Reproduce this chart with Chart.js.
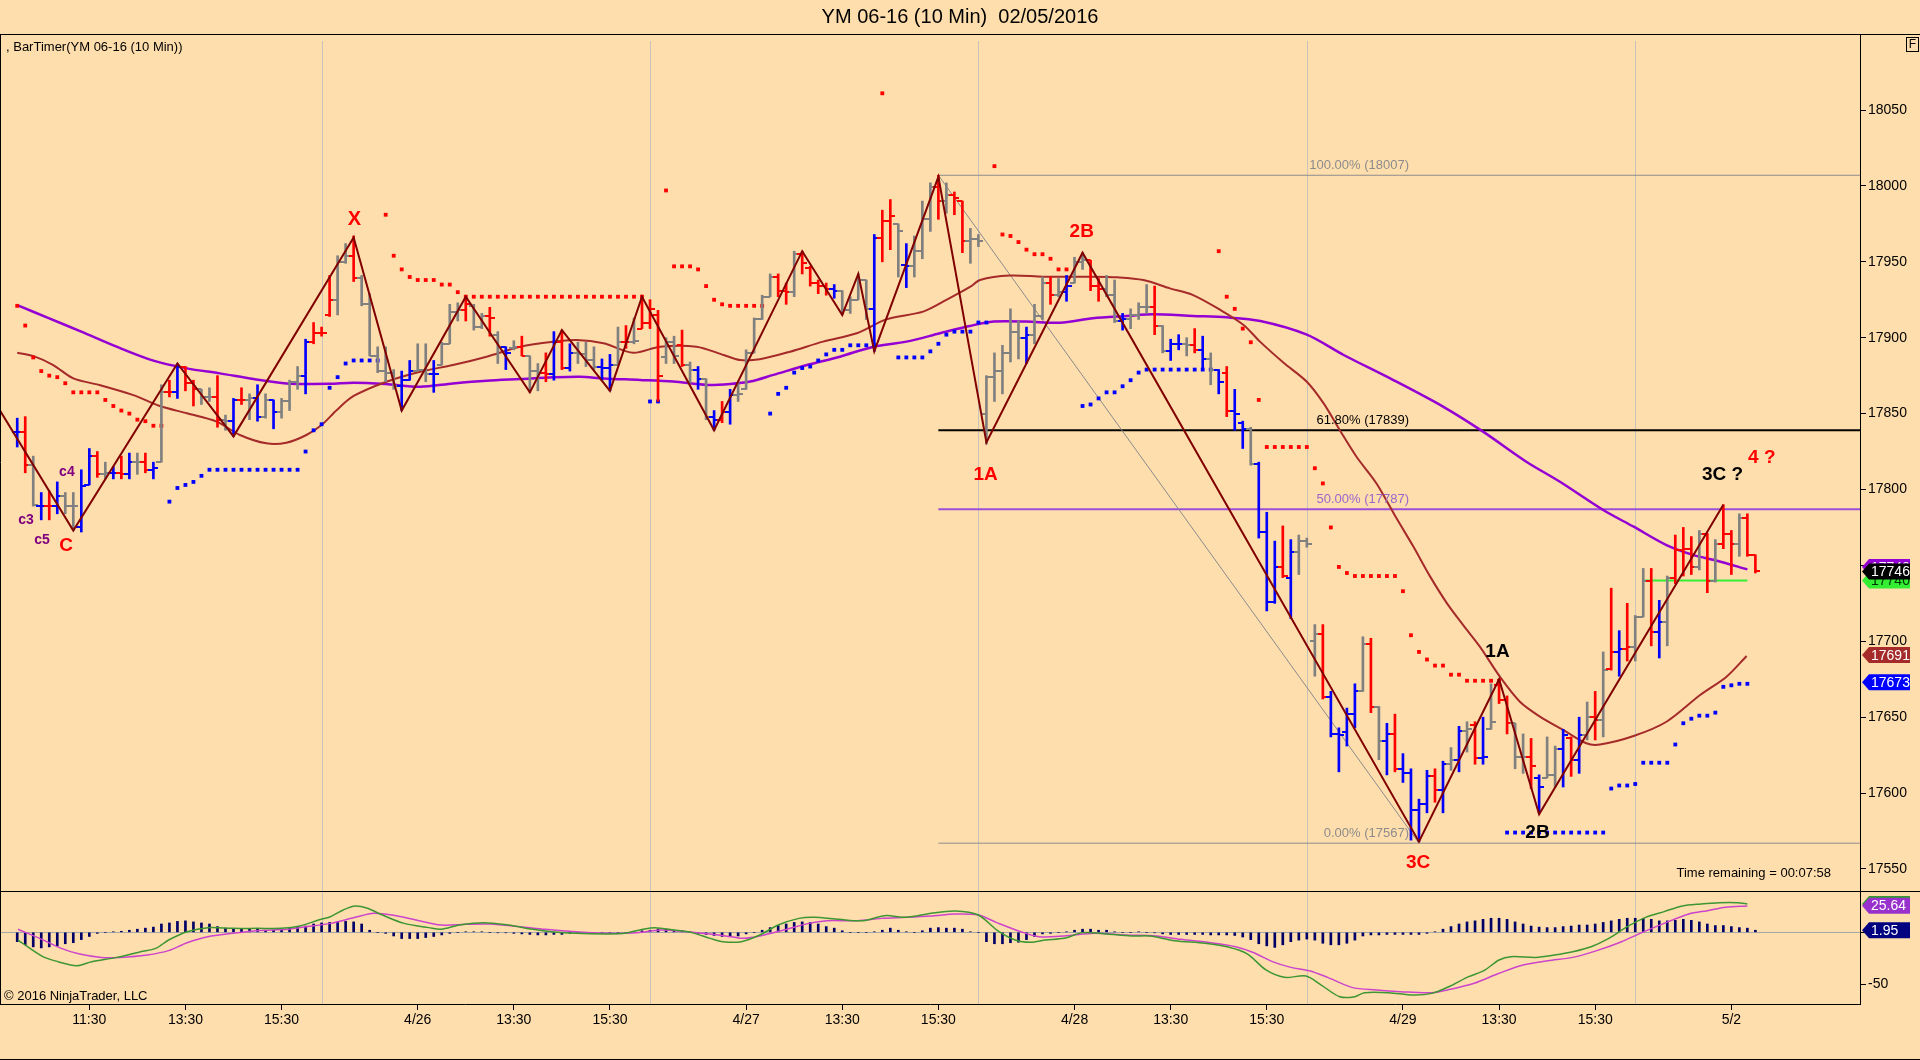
<!DOCTYPE html>
<html><head><meta charset="utf-8">
<script src="https://cdn.jsdelivr.net/npm/chart.js@4.4.1/dist/chart.umd.min.js"></script>
<style>
html,body{margin:0;padding:0;background:#FFDEAD;width:1920px;height:1060px;overflow:hidden;}
#wrapA{position:absolute;left:0;top:0;width:1920px;height:892px;}
#wrapB{position:absolute;left:0;top:891px;width:1920px;height:169px;}
canvas{display:block;}
</style></head><body>
<div id="wrapA"><canvas id="cA" width="1920" height="892"></canvas></div>
<div id="wrapB"><canvas id="cB" width="1920" height="169"></canvas></div>
<script>
// ---------------- DATA ----------------
const FIRST_BAR = 2; // bar index of first visible bar
// OHLC per 10-min bar (day blocks: 4/25, 4/26, 4/27, 4/28, 4/29, 5/2)
const opens = [
17838,17838,17816,17789,17789,17789,17796,17789,17775,17803,17822,17810,17811,17811,17810,17818,17818,17813,17818,17864,17864,17881,17870,17866,17861,17861,17846,17845,17859,17859,17860,17848,17859,17851,17858,17871,17875,17897,17903,
17915,17925,17950,17954,17939,17922,17888,17878,17877,17868,17872,17878,17879,17876,17882,17896,17917,17918,17921,17907,17914,17902,17894,17893,17894,17888,17878,17877,17876,17897,17880,17890,17889,17885,17881,17880,17882,17897,17897,17906,17910,
17915,17887,17897,17895,17882,17879,17873,17848,17846,17851,17862,17866,17890,17912,17927,17940,17931,17930,17955,17946,17936,17934,17932,17931,17918,17925,17938,17919,17966,17977,17975,17948,17947,17957,17978,17999,17990,17994,17990,17964,17965,
17850,17874,17878,17890,17904,17900,17902,17914,17936,17928,17930,17936,17950,17951,17934,17932,17928,17911,17912,17915,17920,17920,17908,17891,17896,17896,17895,17892,17886,17879,17877,17852,17844,17840,17817,17772,17726,17749,17742,17759,17766,
17700,17705,17663,17639,17640,17652,17667,17698,17657,17634,17639,17616,17613,17589,17593,17611,17602,17619,17622,17641,17645,17623,17642,17671,17661,17646,17624,17624,17610,17610,17612,17629,17636,17622,17638,17650,17648,17682,17693,17695,17696,
17716,17740,17706,17713,17742,17760,17761,17749,17771,17740,17764,17771,17764,17781,17757];
const highs = [
17847,17848,17822,17798,17799,17805,17798,17798,17813,17827,17825,17818,17815,17822,17824,17824,17824,17818,17869,17872,17883,17881,17872,17866,17867,17875,17849,17860,17867,17863,17869,17863,17859,17860,17872,17881,17899,17910,17907,
17941,17954,17962,17967,17941,17929,17894,17894,17879,17878,17885,17896,17896,17885,17897,17922,17923,17928,17922,17916,17920,17904,17894,17898,17901,17888,17883,17890,17904,17905,17896,17897,17897,17894,17886,17889,17907,17908,17913,17928,17925,
17918,17900,17901,17905,17884,17881,17873,17852,17858,17866,17871,17892,17913,17928,17942,17942,17936,17957,17957,17947,17938,17936,17935,17931,17927,17942,17938,17968,17984,17991,17975,17962,17967,17990,18002,18007,18002,17996,17990,17972,17968,
17875,17890,17895,17919,17911,17907,17922,17940,17940,17939,17941,17953,17956,17951,17939,17941,17938,17916,17919,17923,17935,17934,17908,17899,17902,17900,17906,17901,17890,17879,17881,17866,17845,17841,17818,17785,17766,17776,17767,17770,17768,
17711,17711,17667,17643,17656,17672,17703,17702,17657,17646,17652,17626,17616,17596,17615,17616,17621,17630,17644,17647,17647,17650,17672,17675,17664,17646,17639,17636,17612,17637,17631,17642,17637,17650,17660,17667,17693,17735,17707,17725,17717,
17748,17748,17727,17743,17770,17775,17769,17773,17771,17767,17790,17773,17784,17784,17757];
const lows = [
17828,17811,17789,17780,17780,17784,17784,17773,17772,17803,17808,17807,17807,17807,17807,17810,17811,17807,17818,17861,17860,17865,17855,17856,17858,17841,17839,17835,17856,17846,17845,17847,17840,17847,17852,17866,17863,17896,17901,
17914,17915,17949,17937,17921,17888,17877,17871,17866,17852,17872,17878,17871,17864,17882,17896,17911,17911,17905,17906,17901,17883,17879,17892,17888,17864,17865,17871,17872,17879,17878,17883,17881,17879,17872,17865,17882,17893,17896,17906,17906,
17858,17883,17883,17881,17870,17866,17846,17839,17844,17843,17858,17866,17890,17912,17927,17927,17922,17927,17942,17934,17929,17928,17926,17915,17916,17925,17912,17891,17950,17958,17940,17933,17940,17952,17970,17978,17982,17981,17956,17949,17960,
17830,17858,17863,17884,17886,17883,17896,17912,17922,17927,17924,17936,17945,17931,17924,17927,17910,17905,17906,17912,17916,17902,17890,17885,17892,17888,17890,17880,17869,17863,17848,17839,17827,17816,17768,17720,17725,17742,17715,17744,17762,
17677,17662,17637,17614,17631,17643,17667,17653,17622,17612,17614,17607,17569,17568,17587,17594,17587,17615,17614,17627,17619,17619,17642,17659,17639,17616,17613,17603,17587,17610,17604,17604,17611,17613,17635,17635,17637,17681,17677,17687,17687,
17716,17697,17689,17697,17738,17743,17744,17747,17732,17739,17761,17744,17756,17756,17745];
const closes = [
17838,17816,17790,17789,17789,17796,17789,17789,17802,17822,17810,17811,17811,17810,17818,17818,17813,17814,17864,17864,17881,17870,17866,17861,17861,17846,17845,17859,17859,17860,17848,17859,17851,17858,17871,17875,17897,17903,17903,
17925,17950,17954,17939,17922,17888,17878,17877,17868,17872,17878,17879,17876,17876,17896,17917,17918,17922,17907,17914,17913,17894,17890,17894,17888,17878,17877,17876,17897,17880,17890,17889,17885,17881,17880,17882,17897,17897,17898,17910,17919,
17875,17897,17888,17882,17879,17873,17848,17846,17851,17862,17863,17890,17912,17927,17940,17931,17930,17955,17949,17936,17934,17932,17931,17918,17925,17938,17919,17966,17977,17980,17970,17947,17957,17978,17999,17990,17994,17992,17964,17965,17964,
17874,17878,17890,17904,17900,17902,17914,17936,17928,17930,17934,17950,17951,17934,17932,17928,17911,17912,17915,17920,17920,17908,17891,17896,17896,17895,17892,17886,17879,17871,17852,17850,17840,17817,17772,17726,17749,17743,17759,17766,17764,
17705,17663,17639,17638,17652,17667,17698,17657,17634,17639,17616,17613,17589,17593,17611,17602,17619,17622,17641,17642,17623,17624,17647,17661,17646,17624,17624,17618,17604,17612,17629,17638,17622,17638,17650,17648,17681,17693,17695,17696,17716,
17740,17706,17713,17742,17760,17761,17749,17771,17740,17764,17771,17764,17781,17757,17746];
// paint-bar colour code per bar: r = red, b = blue, g = gray
const barColors = (
"brgbrbggbbrgbrbgrbgrbrrggrgbrgbgbgggbrr" +
"rggrgggggbbggbgggrggrgbgrggrbrbgggbbgrgrr" +
"rggrgbgbrbgggggrrgrrrrbggggbrrgbgggrgrrgg" +
"gggggbggrgbggrrggbgggrgbbgrbgbrbbgbbbrbgg" +
"grbbbbgrgbrbbbbrbgbgrbgrrggrbggbrbgrgrbrg" +
"grbgrrrgrgrrgrr").split('');

// trailing stop dots [bar, price]
const redStops = [[2,17921],[3,17908],[4,17887],[5,17878],[6,17875],[7,17874],[8,17870],[9,17864],[10,17864],[11,17864],[12,17864],[13,17859],[14,17855],[15,17852],[16,17850],[17,17846],[18,17845],[19,17842],[20,17842],
[48,17981],[49,17954],[50,17945],[51,17940],[52,17938],[53,17938],[54,17938],[55,17935],[56,17935],[57,17930],[58,17927],[59,17927],[60,17927],[61,17927],[62,17927],[63,17927],[64,17927],[65,17927],[66,17927],[67,17927],[68,17927],[69,17927],[70,17927],[71,17927],[72,17927],[73,17927],[74,17927],[75,17927],[76,17927],[77,17927],[78,17927],[79,17927],[80,17927],
[83,17997],[84,17947],[85,17947],[86,17947],[87,17945],[88,17934],[89,17925],[90,17922],[91,17921],[92,17921],[93,17921],[94,17921],[95,17921],
[110,18061],
[124,18013],[125,17968],[126,17967],[127,17963],[128,17958],[129,17955],[130,17955],[131,17952],[132,17945],[133,17945],
[152,17957],[153,17927],[154,17919],[155,17906],[156,17897],[157,17859],[158,17828],[159,17828],[160,17828],[161,17828],[162,17828],[163,17828],[164,17814],[165,17804],[166,17775],[167,17749],[168,17745],[169,17743],[170,17743],[171,17743],[172,17743],[173,17743],[174,17743],[175,17733],[176,17704],[177,17693],[178,17688],[179,17684],[180,17684],[181,17678],[182,17678],[183,17674],[184,17674],[185,17674],[186,17674],[187,17674]];
const blueStops = [[21,17792],[22,17801],[23,17803],[24,17805],[25,17809],[26,17813],[27,17813],[28,17813],[29,17813],[30,17813],[31,17813],[32,17813],[33,17813],[34,17813],[35,17813],[36,17813],[37,17813],[38,17825],[39,17839],[40,17843],[41,17867],[42,17874],[43,17883],[44,17885],[45,17885],[46,17885],[47,17885],
[81,17858],[82,17858],
[96,17850],[97,17863],[98,17867],[99,17877],[100,17880],[101,17881],[102,17885],[103,17889],[104,17892],[105,17892],[106,17895],[107,17895],[108,17895],[109,17895],
[112,17887],[113,17887],[114,17887],[115,17887],[116,17891],[117,17896],[118,17902],[119,17904],[120,17904],[121,17904],[122,17910],[123,17910],
[135,17855],[136,17856],[137,17860],[138,17864],[139,17864],[140,17868],[141,17872],[142,17877],[143,17879],[144,17879],[145,17879],[146,17879],[147,17879],[148,17879],[149,17879],[150,17879],[151,17879],
[188,17574],[189,17574],[190,17574],[191,17574],[192,17574],[193,17574],[194,17574],[195,17574],[196,17574],[197,17574],[198,17574],[199,17574],[200,17574],[201,17603],[202,17605],[203,17605],[204,17606],[205,17620],[206,17620],[207,17620],[208,17620],[209,17632],[210,17646],[211,17649],[212,17651],[213,17651],[214,17653],[215,17670],[216,17671],[217,17672],[218,17672]];

// moving averages [bar, price]
const slowMA = [[2,17921.5],[6,17912.7],[10,17904],[14.4,17894.1],[19,17884.9],[23.2,17879.8],[27.3,17876.5],[31.5,17872.8],[35.6,17869.9],[41,17869.6],[44,17870.4],[48,17869.5],[52.3,17867.7],[56.4,17869.9],[60.6,17871.7],[64.8,17872.8],[68.9,17873.9],[72.3,17874.3],[75.2,17873.2],[79.75,17872.2],[83.9,17871.1],[88.1,17868.9],[91,17869.5],[93.5,17871.1],[96.4,17875.5],[100.6,17882],[104.7,17887.5],[108.9,17894.1],[113,17897.4],[117.2,17902.9],[120.9,17907.7],[123.9,17910.6],[128,17910.6],[132.2,17909.9],[136.3,17912.8],[140.5,17914.3],[143.8,17915.4],[148.8,17914.3],[153,17913.4],[157.2,17911],[163,17902],[167.6,17888.6],[173.8,17872.1],[180,17854.6],[185,17838.1],[190.4,17818.3],[194.6,17805.1],[200,17786.5],[203.8,17775.5],[207.9,17763.4],[211.3,17756.8],[214.2,17753.1],[218,17747.4]];
const fastMA = [[2,17890.1],[4.2,17887.5],[6.5,17882],[9,17873.2],[12.3,17868.8],[16.5,17862.2],[19.8,17855],[23.2,17850.2],[26.9,17844.7],[29.8,17835.9],[33.1,17830.4],[35.6,17830.8],[38.1,17835.9],[40,17842.5],[41.9,17852.4],[44,17861.6],[48.1,17871],[52.3,17877.6],[56.4,17882],[60.6,17887.5],[64.8,17894.1],[68.9,17897.4],[71.8,17898.5],[75.2,17896.3],[78.9,17890.1],[82.25,17894.1],[86.8,17894.1],[90.2,17888.6],[92.2,17885.3],[94.7,17885.8],[98.5,17890.8],[102.6,17897.4],[106.8,17902.9],[110.5,17912.1],[115.1,17917.2],[118,17924.9],[121,17933.6],[122.2,17938],[125.9,17940.9],[130.1,17940.2],[136.3,17940.2],[139.3,17939.8],[142.6,17938],[145.9,17932.5],[148.8,17928.1],[152.2,17918.3],[155.1,17908.4],[157.15,17897.4],[160.1,17883.5],[163,17871],[165.1,17856.7],[167.1,17839.2],[169.2,17821.6],[171.7,17804],[174.2,17781],[176.3,17762.4],[178.4,17742.6],[180.5,17725],[182.5,17710.8],[184.6,17696.5],[187.1,17676.7],[189.6,17660.2],[192.1,17650.4],[195,17641.6],[197.9,17632.8],[199.6,17632],[203.8,17637.6],[207.9,17647],[212.1,17664.6],[215.4,17676.7],[217.9,17690.3]];

// zigzag swing pivots [bar, price]
const zigzag = [[-0.15,17852],[9,17773],[22,17883],[29,17835],[44,17966],[50,17852],[58,17927],[66,17864],[70,17905],[76,17865],[80,17927],[89,17839],[100,17957],[105,17915],[107,17942],[109,17891],[117,18006],[123,17831],[135,17956],[177,17568],[187,17675],[192,17586],[215,17790]];

// Fibonacci retracement
const fibAnchor = [[117,18007],[177,17567]];
const fibLevels = [18007, 17839, 17787, 17567];
const fibTexts = ["100.00% (18007)", "61.80% (17839)", "50.00% (17787)", "0.00% (17567)"];
const fibLabelBar = 175.75;
const greenLevel = [[205,17740],[218,17740]];

// wave labels [text, bar, price, colour, size]
const waveLabels = [
 ["X",44.1,17978,"#FF0000",20],["C",8.1,17763,"#FF0000",19],
 ["c3",3.1,17779.5,"#800080",14],["c5",5.1,17766.7,"#800080",14],["c4",8.2,17811.7,"#800080",14],
 ["1A",122.9,17810,"#FF0000",19],["2B",134.9,17970,"#FF0000",19],["3C",176.9,17554,"#FF0000",19],
 ["1A",186.8,17693,"#000000",19],["2B",191.8,17574,"#000000",19],
 ["3C ?",214.9,17809.5,"#000000",19],["4 ?",219.8,17821,"#FF0000",19]];

// MACD panel
const macdLine = [[2.1,-7.4],[5.2,-23.4],[7.1,-28.2],[9.4,-32.1],[11.3,-28.2],[14.4,-24.1],[17.4,-18.6],[19.3,-15.4],[20.9,-7.4],[23.2,0.6],[25.8,4.5],[28.9,3.8],[32,3.8],[35,3.8],[37.3,6.1],[39.6,11.8],[41.1,15],[42.7,21.5],[44.2,25.3],[45.7,23.1],[47.6,16.6],[50.3,8.6],[53.4,4.5],[54.9,2.9],[57.2,7],[60.2,9.3],[63.3,7],[66.4,2.9],[68.7,0.6],[71.7,-1],[75.5,-1.6],[77.8,-1],[80.1,2.9],[81.6,4.5],[84,2.2],[86.2,-0.3],[88.5,-5.8],[90.1,-9],[92.4,-9],[94.7,-2.6],[97,7],[99.6,13.4],[101.5,14.4],[104.6,12.5],[107.6,11.2],[110.3,16],[113,14.4],[116.1,18.3],[119.1,20.5],[122,16.6],[124.3,2.2],[126.6,-7.4],[128.5,-9.6],[130.4,-7.4],[132.7,-5.8],[135,-0.3],[138,-1.6],[141.1,-3.5],[143.4,-3.5],[146.5,-8],[150.3,-10.6],[153.3,-14.4],[155.6,-20.9],[157.9,-36.2],[160.2,-43.3],[162.9,-42],[164.8,-50.7],[167.1,-61.9],[169,-61.9],[170.2,-58],[173.2,-58],[176.3,-60.3],[178.6,-58.7],[180.9,-51.6],[183.2,-42.6],[185.1,-36.9],[187,-26.6],[188.5,-23.4],[191.6,-24.1],[193.9,-21.8],[196.2,-18.6],[198.5,-13.8],[200.7,-5.8],[203,5.4],[205.3,14.4],[207.6,19.9],[209.9,25.3],[212.2,27.2],[214.5,28.5],[216.8,28.5],[218,27.2]];
const macdSignal = [[2.1,2.9],[4.8,-5.8],[7.5,-15.4],[9.8,-20.9],[12.5,-24.1],[14.8,-24.1],[18.2,-21.8],[20.9,-17.6],[23.2,-10],[25.8,-4.2],[28.9,-1],[32,1.6],[35.8,2.9],[38.1,5.4],[41.1,8.6],[44.2,14.4],[46.5,18.3],[48.8,16.6],[51.8,11.8],[54.9,7],[58,7.7],[61,8],[64.8,5.4],[67.9,2.9],[71.7,0.6],[76.3,-1],[79.4,-0.3],[82.4,2.2],[85.5,0.6],[88.5,-1.6],[91.6,-4.8],[92.7,-5.8],[94.7,-3.5],[97.7,2.2],[100.8,8.6],[103.1,11.2],[106.9,11.2],[109.9,13.4],[113,14.4],[116.1,15.7],[119.1,17.6],[122,16.6],[124.3,9.3],[127.3,0.6],[129.6,-4.2],[132.7,-3.5],[136.5,-1],[140.3,-2.6],[144.2,-3.5],[147.2,-6.7],[151,-10],[154.1,-13.8],[156.4,-19.6],[158.7,-28.2],[161,-33.7],[163.3,-36.9],[165.6,-43.3],[168.6,-52.9],[171.7,-55.5],[174.7,-57.1],[178.6,-58],[180.9,-54.8],[183.9,-49],[187,-39.4],[190,-31.4],[193.1,-27.3],[196.2,-24.1],[199.2,-17.6],[202.3,-9],[204.6,-1],[207.6,8.6],[210.7,17.6],[213,20.8],[215.3,24],[218,25.3]];
const macdHist = [
-9,-12,-14,-15,-14,-13,-11,-10,-7,-4,-1,0,0.5,1,2,3,4,5,8,9,10.5,11,10,9,8,5.5,4,3,3,3,3,2,2,3,4,5,6,8,9,
9.5,10,10.5,10,8,2,0,-1,-3.5,-6,-6,-6,-5,-4,-2.5,-1,0,0.5,0.5,0.5,0,-0.5,-0.5,-1,-1.5,-2,-2.5,-2.5,-2,-2,-1,-0.5,0,-0.5,-1,-1,-0.5,0,0.5,1.5,2,
3,3,2,1.5,0.5,-1,-2,-3,-4,-4,-3.5,-1.5,0,2,4.5,6.5,8,9.5,10,9.5,8,5.5,4,1.5,0,0,0,0.5,2,4,2,0.5,0,1.5,4,4.5,4,4,3,0.5,0,
-9,-11,-11,-10,-9.5,-7,-4,-1.5,-1,0,0.5,2,3,3,2,2,0.5,0,0,0.5,0,-0.5,-1.5,-2,-2,-2,-2,-2,-2.5,-2.5,-2.5,-3,-4.5,-7,-11,-13,-14.5,-12,-9,-7.5,-6.5,
-7.5,-10.5,-12,-12,-10.5,-7.5,-3.5,-2.5,-2.5,-2,-2,-2,-2,-2,-1,0.5,3,5.5,8,10,11,12.5,13.5,13.5,12.5,10,8,6,5,4.5,4.5,5.5,6,7,7,8,9.5,11,12.5,13.5,13.5,
13.5,12.5,11,11,11.5,12.5,11.5,10,8,6.5,6.5,5.5,4.5,4,2];

// axes
const priceTicks = [17550,17600,17650,17700,17750,17800,17850,17900,17950,18000,18050];
const timeTickBars = [11,23,35,52,64,76,93,105,117,134,146,158,175,187,199,216];
const timeTickLabels = ["11:30","13:30","15:30","4/26","13:30","15:30","4/27","13:30","15:30","4/28","13:30","15:30","4/29","13:30","15:30","5/2"];
const dayBreaks = [40,81,122,163,204];
const priceBadges = [[17749,"#9400D3","#FFFFFF"],[17740,"#33EE33","#003300"],[17746,"#000000","#FFFFFF"],[17691,"#A52A2A","#FFFFFF"],[17673,"#0000FF","#FFFFFF"]];
const macdBadges = [[27.3,"#339933","#FFFFFF"],[25.64,"#9932CC","#FFFFFF"],[1.95,"#000080","#FFFFFF"]];

// view ranges
const X_MIN = -0.15, X_MAX = 232.06;
const P_MIN = 17535.5, P_MAX = 18100.07;
const M_MIN = -68.9, M_MAX = 38.75;

// ---------------- STYLE ----------------
const NARROW = '"Liberation Sans Narrow", "Arial Narrow", "Liberation Sans", Arial, sans-serif';
const SANS = '"Liberation Sans", Arial, sans-serif';
const COL = {r:'#FF0000', b:'#0000FF', g:'#808080'};

function tickImg(color, side){
  const c = document.createElement('canvas'); c.width = 10; c.height = 2;
  const g = c.getContext('2d'); g.fillStyle = color;
  if (side === 'L') g.fillRect(0,0,5,2); else g.fillRect(5,0,5,2);
  return c;
}
const leftImgs = {}, rightImgs = {};
for (const k in COL){ leftImgs[k] = tickImg(COL[k],'L'); rightImgs[k] = tickImg(COL[k],'R'); }

const barIdx = opens.map((_,k)=>FIRST_BAR+k);
const pts = arr => arr.map(([x,y])=>({x,y}));

function drawBadge(ctx, x0, y, text, bg, fg){
  ctx.save();
  ctx.beginPath();
  ctx.moveTo(x0+2, y); ctx.lineTo(x0+9, y-8); ctx.lineTo(x0+50, y-8);
  ctx.lineTo(x0+50, y+8); ctx.lineTo(x0+9, y+8); ctx.closePath();
  ctx.fillStyle = bg; ctx.fill();
  ctx.fillStyle = fg; ctx.font = '14px ' + NARROW; ctx.textAlign='left'; ctx.textBaseline='middle';
  ctx.fillText(text, x0+11, y+1);
  ctx.restore();
}

const common = {
  responsive:false, animation:false, events:[], devicePixelRatio:1,
  plugins:{legend:{display:false}, tooltip:{enabled:false}, title:{display:false}}
};

// ---------------- MAIN PRICE CHART ----------------
const fibColors = ['#8C8C8C','#000000','#9B4FD8','#8C8C8C'];
const fibWidths = [1,2,2,1];
const fibTextColors = ['#8C8C8C','#000000','#9966CC','#8C8C8C'];
const datasetsA = [];
fibLevels.forEach((v,k)=>datasetsA.push({type:'line', data:pts([[fibAnchor[0][0],v],[X_MAX,v]]), borderColor:fibColors[k], borderWidth:fibWidths[k], pointRadius:0, order:20}));
datasetsA.push({type:'line', data:pts(fibAnchor), borderColor:'#8A8A8A', borderWidth:1, pointRadius:0, order:19});
datasetsA.push({type:'line', data:pts(slowMA), borderColor:'#9400D3', borderWidth:2.5, pointRadius:0, tension:0.3, order:15});
datasetsA.push({type:'line', data:pts(fastMA), borderColor:'#A52A2A', borderWidth:2, pointRadius:0, tension:0.3, order:14});
datasetsA.push({type:'scatter', data:pts(redStops), pointStyle:'rect', pointRadius:2.7, backgroundColor:'#FF0000', borderWidth:0, order:12});
datasetsA.push({type:'scatter', data:pts(blueStops), pointStyle:'rect', pointRadius:2.7, backgroundColor:'#0000FF', borderWidth:0, order:12});
datasetsA.push({type:'line', data:pts(greenLevel), borderColor:'#33EE33', borderWidth:2, pointRadius:0, order:11});
datasetsA.push({type:'bar', data:barIdx.map((x,k)=>({x, y:[lows[k], highs[k]]})), backgroundColor:barColors.map(c=>COL[c]), barThickness:2, grouped:false, borderWidth:0, order:10});
datasetsA.push({type:'scatter', data:barIdx.map((x,k)=>({x, y:opens[k]})), pointStyle:ctx=>leftImgs[barColors[ctx.dataIndex]], pointRadius:3, order:9});
datasetsA.push({type:'scatter', data:barIdx.map((x,k)=>({x, y:closes[k]})), pointStyle:ctx=>rightImgs[barColors[ctx.dataIndex]], pointRadius:3, order:9});
datasetsA.push({type:'line', data:pts(zigzag), borderColor:'#800000', borderWidth:2, pointRadius:0, tension:0, order:8});

const plugA = {
  id:'decorA',
  beforeDatasetsDraw(chart){
    const {ctx, chartArea:a, scales:{x}} = chart;
    ctx.save(); ctx.strokeStyle='#C8C2B8'; ctx.lineWidth=1;
    dayBreaks.forEach(i=>{ const px=Math.round(x.getPixelForValue(i))+0.5; ctx.beginPath(); ctx.moveTo(px,a.top+7); ctx.lineTo(px,a.bottom); ctx.stroke(); });
    ctx.restore();
  },
  afterDatasetsDraw(chart){
    const {ctx, chartArea:a, scales:{x,y}} = chart;
    ctx.save();
    // fib labels
    ctx.font = '13px ' + NARROW; ctx.textAlign='right'; ctx.textBaseline='bottom';
    fibLevels.forEach((v,k)=>{ ctx.fillStyle=fibTextColors[k]; ctx.fillText(fibTexts[k], x.getPixelForValue(fibLabelBar), y.getPixelForValue(v)-3); });
    // wave labels
    ctx.textAlign='center'; ctx.textBaseline='middle';
    waveLabels.forEach(([t,i,p,c,s])=>{ ctx.font='bold '+s+'px '+SANS; ctx.fillStyle=c; ctx.fillText(t, x.getPixelForValue(i), y.getPixelForValue(p)); });
    // texts
    ctx.fillStyle='#000'; ctx.font='13px '+NARROW; ctx.textAlign='left';
    ctx.fillText(', BarTimer(YM 06-16 (10 Min))', 6, 47);
    ctx.textAlign='right';
    ctx.fillText('Time remaining = 00:07:58', 1831, 873);
    ctx.font='20px '+SANS; ctx.textAlign='center';
    ctx.fillText('YM 06-16 (10 Min)  02/05/2016', 960, 17);
    // frame
    ctx.strokeStyle='#000'; ctx.lineWidth=1;
    ctx.beginPath(); ctx.moveTo(0,a.top+0.5); ctx.lineTo(1920,a.top+0.5); ctx.stroke();
    ctx.beginPath(); ctx.moveTo(0.5,a.top); ctx.lineTo(0.5,a.bottom); ctx.stroke();
    ctx.beginPath(); ctx.moveTo(0,891.5); ctx.lineTo(1920,891.5); ctx.stroke();
    ctx.strokeRect(1906.5,37.5,12,14);
    ctx.font='12px '+NARROW; ctx.textAlign='center'; ctx.textBaseline='middle';
    ctx.fillText('F',1912.5,45);
    ctx.restore();
    // badges
    priceBadges.forEach(([v,bg,fg])=>drawBadge(ctx, a.right, y.getPixelForValue(v), String(v), bg, fg));
  }
};

new Chart(document.getElementById('cA'), {
  type:'bar',
  data:{datasets:datasetsA},
  options:Object.assign({}, common, {
    layout:{autoPadding:false, padding:{top:34, left:0, right:0, bottom:1}},
    scales:{
      x:{type:'linear', min:X_MIN, max:X_MAX, display:false, offset:false, grid:{display:false, offset:false}},
      y:{type:'linear', position:'right', min:P_MIN, max:P_MAX, beginAtZero:false,
        afterBuildTicks:s=>{ s.ticks = priceTicks.map(v=>({value:v})); },
        afterFit:s=>{ s.width=60; s.paddingTop=0; s.paddingBottom=0; },
        grid:{drawOnChartArea:false, drawTicks:true, tickLength:6, color:'#000', tickColor:'#000'},
        border:{display:true, color:'#000', width:1},
        ticks:{color:'#000', font:{family:NARROW, size:14}, padding:2, callback:v=>String(v)}
      }
    }
  }),
  plugins:[plugA]
});

// ---------------- MACD PANEL ----------------
const plugB = {
  id:'decorB',
  beforeDatasetsDraw(chart){
    const {ctx, chartArea:a, scales:{x}} = chart;
    ctx.save(); ctx.strokeStyle='#C8C2B8'; ctx.lineWidth=1;
    dayBreaks.forEach(i=>{ const px=Math.round(x.getPixelForValue(i))+0.5; ctx.beginPath(); ctx.moveTo(px,a.top); ctx.lineTo(px,a.bottom); ctx.stroke(); });
    ctx.restore();
  },
  afterDatasetsDraw(chart){
    const {ctx, chartArea:a, scales:{y}} = chart;
    ctx.save();
    ctx.fillStyle='#000'; ctx.font='13px '+NARROW; ctx.textAlign='left'; ctx.textBaseline='middle';
    ctx.fillText('\u00A9 2016 NinjaTrader, LLC', 4, 105);
    ctx.strokeStyle='#000'; ctx.lineWidth=1;
    ctx.beginPath(); ctx.moveTo(0,0.5); ctx.lineTo(1920,0.5); ctx.stroke();
    ctx.beginPath(); ctx.moveTo(0.5,0); ctx.lineTo(0.5,a.bottom); ctx.stroke();
    ctx.beginPath(); ctx.moveTo(0,168.5); ctx.lineTo(1920,168.5); ctx.stroke();
    ctx.restore();
    macdBadges.forEach(([v,bg,fg])=>drawBadge(ctx, a.right, y.getPixelForValue(v), String(v), bg, fg));
  }
};

new Chart(document.getElementById('cB'), {
  type:'bar',
  data:{datasets:[
    {type:'bar', data:barIdx.map((x,k)=>({x, y:macdHist[k]})), backgroundColor:'#000066', barThickness:2, grouped:false, borderWidth:0, order:5},
    {type:'line', data:pts(macdSignal), borderColor:'#CC44CC', borderWidth:1.5, pointRadius:0, tension:0.3, order:3},
    {type:'line', data:pts(macdLine), borderColor:'#3C9632', borderWidth:1.5, pointRadius:0, tension:0.3, order:2}
  ]},
  options:Object.assign({}, common, {
    layout:{autoPadding:false, padding:{top:1, left:0, right:0, bottom:0}},
    scales:{
      x:{type:'linear', position:'bottom', min:X_MIN, max:X_MAX, offset:false,
        afterBuildTicks:s=>{ s.ticks = timeTickBars.map(v=>({value:v})); },
        afterFit:s=>{ s.height=56; s.paddingLeft=0; s.paddingRight=0; },
        grid:{drawOnChartArea:false, drawTicks:true, tickLength:6, color:'#000', tickColor:'#000', offset:false},
        border:{display:true, color:'#000', width:1},
        ticks:{color:'#000', font:{family:NARROW, size:14}, padding:2, autoSkip:false, maxRotation:0, minRotation:0,
          callback:(v,k)=>timeTickLabels[k]}
      },
      y:{type:'linear', position:'right', min:M_MIN, max:M_MAX, beginAtZero:false,
        afterBuildTicks:s=>{ s.ticks = [{value:-50},{value:0}]; },
        afterFit:s=>{ s.width=60; s.paddingTop=0; s.paddingBottom=0; },
        grid:{drawOnChartArea:true, drawTicks:true, tickLength:6,
          color:c=>(c.tick && c.tick.value===0) ? '#A8A8A8' : 'rgba(0,0,0,0)', tickColor:'#000'},
        border:{display:true, color:'#000', width:1},
        ticks:{color:'#000', font:{family:NARROW, size:14}, padding:2, callback:v=>(v===-50?'-50':'')}
      }
    }
  }),
  plugins:[plugB]
});
</script>
</body></html>
